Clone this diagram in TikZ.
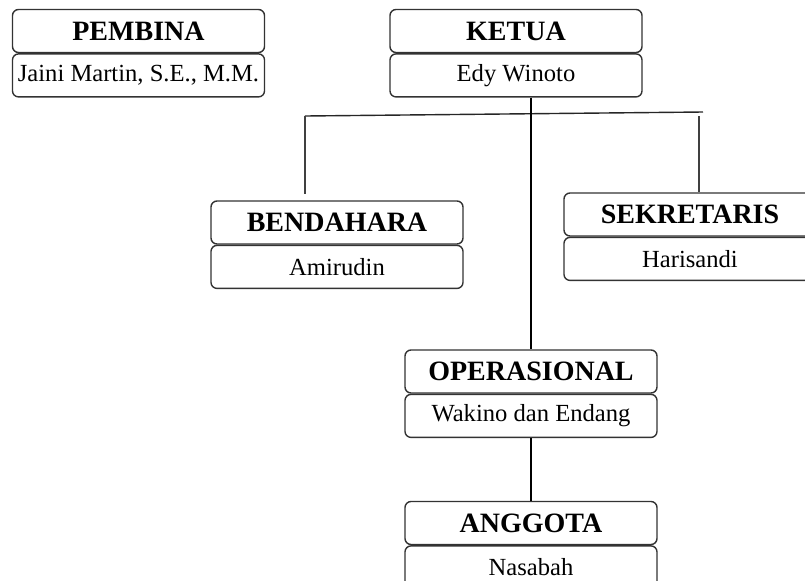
\documentclass[tikz,border=0pt]{standalone}
\usepackage{fontspec}
\setmainfont{Liberation Serif}
\usetikzlibrary{positioning}

\begin{document}
\begin{tikzpicture}[x=0.5pt,y=-0.5pt,line width=0.7pt,
    jabatan/.style={draw=black!80, rounded corners=3pt, minimum width=126pt, minimum height=21.5pt, inner sep=0pt, font=\fontsize{14}{16}\selectfont\bfseries},
    orang/.style={draw=black!80, rounded corners=3pt, minimum width=126pt, minimum height=21.5pt, inner sep=0pt, font=\fontsize{12.3}{14}\selectfont}]
        \path[use as bounding box, clip] (0,0) rectangle (805,580);

        % pengurus atas
        \node[jabatan] (pembina) at (138.5,31) {PEMBINA};
        \node[orang, below=0pt of pembina] (pembinaN) {Jaini Martin, S.E., M.M.};
        \node[jabatan] (ketua) at (516,31) {KETUA};
        \node[orang, below=0pt of ketua] (ketuaN) {Edy Winoto};

        % bawah ketua
        \node[jabatan] (bendahara) at (337,222.5) {BENDAHARA};
        \node[orang, below=0pt of bendahara] (bendaharaN) {Amirudin};
        \node[jabatan] (sekretaris) at (690,214.5) {SEKRETARIS};
        \node[orang, below=0pt of sekretaris] (sekretarisN) {Harisandi};
        \node[jabatan] (operasional) at (531,371.5) {OPERASIONAL};
        \node[orang, below=0pt of operasional] (operasionalN) {Wakino dan Endang};
        \node[jabatan] (anggota) at (531,523) {ANGGOTA};
        \node[orang, below=0pt of anggota] (anggotaN) {Nasabah};

        % garis
        \coordinate (kiri) at (305,116);
        \coordinate (kanan) at (703,112);
        \draw[black!85] (kiri) -- (kanan);
        \draw[black!75] (kiri) -- ([yshift=3pt]bendahara.north -| kiri);
        \draw[black!75] ([xshift=-2pt,yshift=-2pt]kanan) -- ([xshift=-2pt]kanan |- sekretaris.north);
        \draw (ketuaN.south -| operasional.north) -- (operasional.north);
        \draw (operasionalN.south) -- (anggota.north);
    \end{tikzpicture}
\end{document}
